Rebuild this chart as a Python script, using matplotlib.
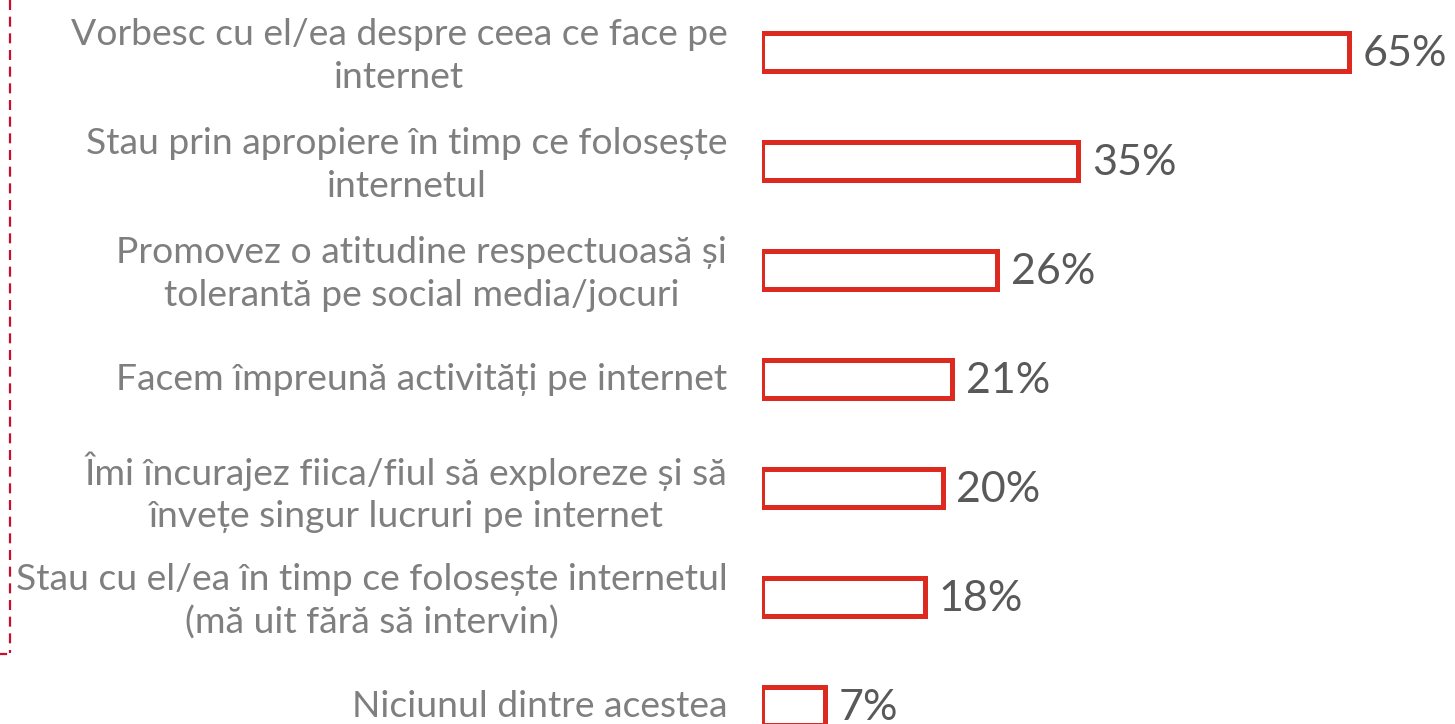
import matplotlib
matplotlib.use("Agg")
import matplotlib.pyplot as plt
from matplotlib.lines import Line2D

# Chart data
categories = [
    "Vorbesc cu el/ea despre ceea ce face pe\ninternet",
    "Stau prin apropiere în timp ce folosește\ninternetul",
    "Promovez o atitudine respectuoasă și\ntolerantă pe social media/jocuri",
    "Facem împreună activități pe internet",
    "Îmi încurajez fiica/fiul să exploreze și să\nînvețe singur lucruri pe internet",
    "Stau cu el/ea în timp ce folosește internetul\n(mă uit fără să intervin)",
    "Niciunul dintre acestea",
]
values = [65, 35, 26, 21, 20, 18, 7]
value_labels = ["65%", "35%", "26%", "21%", "20%", "18%", "7%"]

RED = "#DC2A20"
LABEL_GREY = "#7F7F7F"
VALUE_GREY = "#595959"
FONT = ["Lato", "DejaVu Sans"]

W, H, DPI = 1455, 724, 100
fig = plt.figure(figsize=(W / DPI, H / DPI), dpi=DPI)
ax = fig.add_axes([762 / W, 0, 1 - 762 / W, 1])

y = list(range(len(values)))
ax.barh(y, values, height=0.35, facecolor="white", edgecolor=RED, linewidth=3.6)

ax.set_xlim(0, (W - 762) / 9.03)
ax.set_ylim(6.165, -0.477)

# value labels to the right of each bar
for yi, v, lab in zip(y, values, value_labels):
    ax.annotate(lab, (v, yi), xytext=(10, -1.5), textcoords="offset points",
                ha="left", va="center", fontsize=31, color=VALUE_GREY, family=FONT)

# category labels, right-aligned left of the bars
for yi, cat in zip(y, categories):
    dy = -3 if "\n" in cat else 0
    ax.annotate(cat, (0, yi), xytext=(-25, dy), textcoords="offset points",
                ha="right", va="center", multialignment="center", linespacing=1.35,
                fontsize=26.8, color=LABEL_GREY, family=FONT, annotation_clip=False)

ax.set_xticks([])
ax.set_yticks([])
for s in ax.spines.values():
    s.set_visible(False)

# dashed red bracket on the left edge
fig.add_artist(Line2D([10 / W, 10 / W], [1, 1 - 653 / H], transform=fig.transFigure,
                      color="#C8102E", lw=1.6, linestyle=(0, (4.5, 3))))
fig.add_artist(Line2D([0, 6 / W], [1 - 654 / H, 1 - 654 / H], transform=fig.transFigure,
                      color="#C8102E", lw=1.6))

fig.savefig("out.png", dpi=DPI)
